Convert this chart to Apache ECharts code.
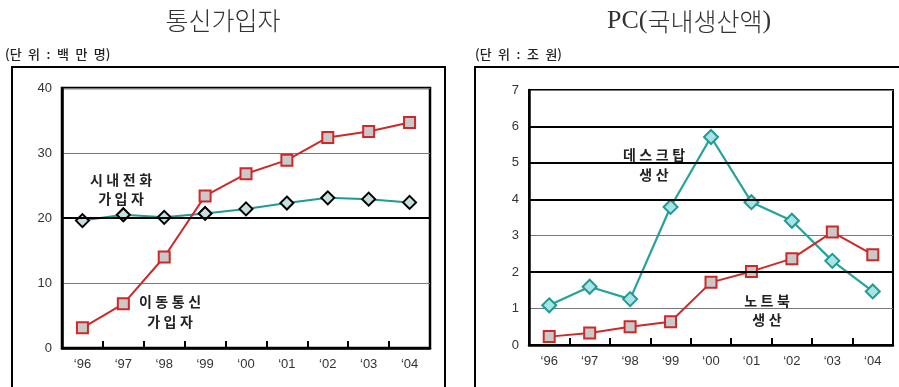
<!DOCTYPE html>
<html><head><meta charset="utf-8">
<script src="https://cdn.jsdelivr.net/npm/echarts@6/dist/echarts.min.js"></script>
<style>html,body{margin:0;padding:0;background:#fff}#c{width:899px;height:387px}</style>
</head><body><div id="c"></div>
<script>
// Years shown on both x axes
const years = ['‘96','‘97','‘98','‘99','‘00','‘01','‘02','‘03','‘04'];
// Subscribers (millions)
const landline = [19.6, 20.5, 20.1, 20.7, 21.4, 22.3, 23.1, 22.9, 22.4];
const mobile = [3.1, 6.8, 14.0, 23.4, 26.8, 28.9, 32.4, 33.3, 34.7];
// Domestic PC production (trillion won)
const desktop = [1.09, 1.6, 1.26, 3.79, 5.71, 3.92, 3.41, 2.31, 1.47];
const notebook = [0.23, 0.33, 0.5, 0.64, 1.72, 2.02, 2.37, 3.1, 2.48];
const leftTicks = [0, 10, 20, 30, 40];
const rightTicks = [0, 1, 2, 3, 4, 5, 6, 7];

const font = 'Liberation Sans, Arial, sans-serif';
const kfont = '"Noto Sans CJK KR", sans-serif';
const sp = '\u2005';
const en = '\u2002';
const spaced = (s, gap) => s.split('\n').map(l => Array.from(l).join(gap || sp)).join('\n');

const chart = echarts.init(document.getElementById('c'));

function xAxis(gi, margin) {
  return {
    type: 'category', gridIndex: gi, data: years, boundaryGap: true,
    axisLine: {show: true, lineStyle: {color: '#000', width: 2.5}},
    axisTick: {show: true, inside: true, interval: 0, alignWithLabel: false, length: 7,
               lineStyle: {color: '#000', width: 2}},
    axisLabel: {color: '#333', fontFamily: font, fontSize: 13, margin: margin},
    splitLine: {show: false}
  };
}
function yAxis(gi, max, interval) {
  return {
    type: 'value', gridIndex: gi, min: 0, max: max, interval: interval,
    axisLine: {show: true, lineStyle: {color: '#000', width: 2.5}},
    axisTick: {show: false},
    axisLabel: {color: '#333', fontFamily: font, fontSize: 13, margin: 10},
    splitLine: {lineStyle: {color: '#777', width: 1}}
  };
}
function boldGrid(values) {
  return {
    silent: true, symbol: 'none', label: {show: false},
    lineStyle: {color: '#000', width: 2.2, type: 'solid'},
    data: values.map(v => ({yAxis: v}))
  };
}
const sq = {symbol: 'rect', symbolSize: 11,
  itemStyle: {color: '#c9c9c9', borderColor: '#d02828', borderWidth: 2}};

chart.setOption({
  animation: false,
  grid: [
    {left: 62, top: 88, width: 368, height: 260, show: true, borderColor: '#000', borderWidth: 2.5},
    {left: 529, top: 90, width: 364, height: 255, show: true, borderColor: '#000', borderWidth: 2}
  ],
  xAxis: [xAxis(0, 10), xAxis(1, 10)],
  yAxis: [yAxis(0, leftTicks[leftTicks.length - 1], 10), yAxis(1, rightTicks[rightTicks.length - 1], 1)],
  series: [
    {type: 'line', xAxisIndex: 0, yAxisIndex: 0, data: landline,
     lineStyle: {color: '#1f9a94', width: 2},
     symbol: 'diamond', symbolSize: 13,
     itemStyle: {color: '#c6dede', borderColor: '#000', borderWidth: 2},
     markLine: boldGrid([20]), z: 3},
    Object.assign({type: 'line', xAxisIndex: 0, yAxisIndex: 0, data: mobile,
     lineStyle: {color: '#d02828', width: 2}, z: 4}, sq),
    {type: 'line', xAxisIndex: 1, yAxisIndex: 1, data: desktop,
     lineStyle: {color: '#24a29c', width: 2.2},
     symbol: 'diamond', symbolSize: 14,
     itemStyle: {color: '#a8e4e4', borderColor: '#1f9a94', borderWidth: 2},
     markLine: boldGrid([2, 4, 5, 6]), z: 3},
    Object.assign({type: 'line', xAxisIndex: 1, yAxisIndex: 1, data: notebook,
     lineStyle: {color: '#d02828', width: 2}, z: 4}, sq)
  ],
  graphic: [
    // outer frames
    {type: 'rect', shape: {x: 12, y: 67, width: 433, height: 340}, style: {fill: 'none', stroke: '#000', lineWidth: 2}, z: -1},
    {type: 'rect', shape: {x: 475, y: 67, width: 440, height: 340}, style: {fill: 'none', stroke: '#000', lineWidth: 2}, z: -1},
    // titles
    {type: 'text', x: 223, y: 8, style: {text: '통신가입자', font: '300 25px ' + kfont, fill: '#333', textAlign: 'center'}},
    {type: 'text', x: 689, y: 8, style: {
      text: '{s|PC(}{k|국내생산액}{s|)}', textAlign: 'center',
      rich: {s: {fontFamily: 'Liberation Serif, serif', fontSize: 26, fill: '#333'},
             k: {fontFamily: kfont, fontSize: 25, fontWeight: 300, fill: '#333'}}}},
    // units
    {type: 'text', x: 5, y: 48, style: {text: '(' + spaced('단위', en) + en + ':' + en + spaced('백만명', en) + ')', font: '500 13px ' + kfont, fill: '#222'}},
    {type: 'text', x: 475, y: 48, style: {text: '(' + spaced('단위', en) + en + ':' + en + spaced('조원', en) + ')', font: '500 13px ' + kfont, fill: '#222'}},
    // series annotations
    {type: 'text', x: 121, y: 170, style: {text: spaced('시내전화\n가입자'), font: 'bold 14px ' + kfont, fill: '#222', textAlign: 'center', lineHeight: 19}},
    {type: 'text', x: 170, y: 292, style: {text: spaced('이동통신\n가입자'), font: 'bold 14px ' + kfont, fill: '#222', textAlign: 'center', lineHeight: 20}},
    {type: 'text', x: 654, y: 145, style: {text: spaced('데스크탑\n생산'), font: 'bold 14px ' + kfont, fill: '#222', textAlign: 'center', lineHeight: 20}},
    {type: 'text', x: 767, y: 291, style: {text: spaced('노트북\n생산'), font: 'bold 14px ' + kfont, fill: '#222', textAlign: 'center', lineHeight: 19}}
  ]
});
</script></body></html>
